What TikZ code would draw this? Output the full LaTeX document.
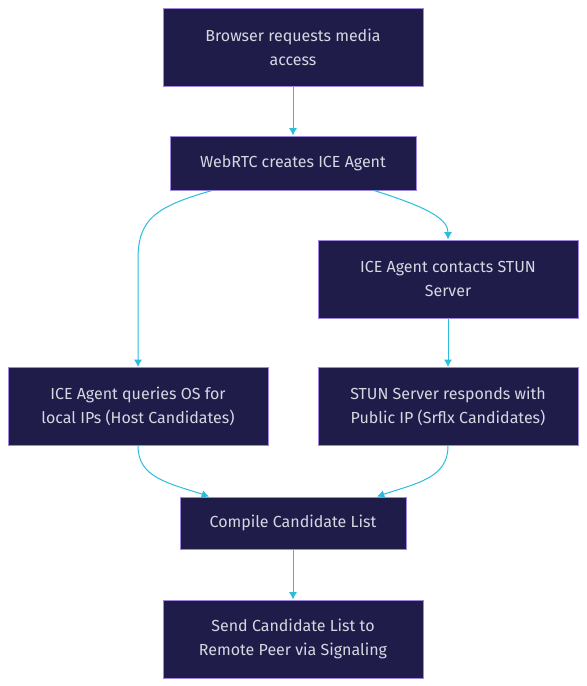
\documentclass[tikz,border=0pt]{standalone}
\usepackage{fontspec}
\setmainfont{Fira Sans}
\usetikzlibrary{positioning,arrows.meta}
\definecolor{boxfill}{RGB}{31,28,74}
\definecolor{boxline}{RGB}{160,135,220}
\definecolor{boxtext}{RGB}{215,215,225}
\definecolor{flowline}{RGB}{40,190,220}
\tikzstyle{blk}=[draw=boxline, fill=boxfill, text=boxtext, minimum height = 58.5pt, minimum width=195pt, align=center, line width=0.75pt, font=\fontsize{12}{18}\selectfont]
\tikzstyle{blk1}=[blk, minimum height = 40.5pt, minimum width=184.5pt]
\tikzstyle{blk2}=[blk, minimum height = 39pt, minimum width=169.5pt]
\tikzstyle{flow}=[->, draw=flowline, line width=0.75pt]
\begin{document}
\begin{tikzpicture}[node distance=87pt,auto,>={Latex[length=5.5pt,width=6pt]}]
\useasboundingbox (0,0) rectangle (439.5pt,-514.5pt);
  \node[blk] at (219.75pt,-35.25pt) (request) {Browser requests media\\access};
  \node[blk1, below of = request] (agent) {WebRTC creates ICE Agent};
\draw[flow] (request) -- (agent);

  \node[blk, below of = agent, xshift = 116.25pt] (stun) {ICE Agent contacts STUN\\Server};
  \node[blk, below of = agent, node distance = 182.6pt, xshift = -116.25pt] (host) {ICE Agent queries OS for\\local IPs (Host Candidates)};
  \node[blk, below of = stun, node distance = 95.6pt] (reply) {STUN Server responds with\\Public IP (Srflx Candidates)};

\draw[flow] ([xshift=-60.75pt]agent.south) .. controls +(-42pt,-12pt) and +(0,30pt) .. ([yshift=81pt]host.north) -- (host.north);
\draw[flow] ([xshift=60.75pt]agent.south) .. controls +(45pt,-14pt) and +(0,14pt) .. (stun.north);
\draw[flow] (stun) -- (reply);

  \node[blk2, below of = agent, node distance = 270pt] (compile) {Compile Candidate List};
\draw[flow] (host.south) .. controls +(0,-24pt) and +(-30pt,10pt) .. ([xshift=-63pt]compile.north);
\draw[flow] (reply.south) .. controls +(0,-24pt) and +(30pt,10pt) .. ([xshift=63pt]compile.north);

  \node[blk, below of = compile] (send) {Send Candidate List to\\Remote Peer via Signaling};
\draw[flow] (compile) -- (send);
\end{tikzpicture}
\end{document}
